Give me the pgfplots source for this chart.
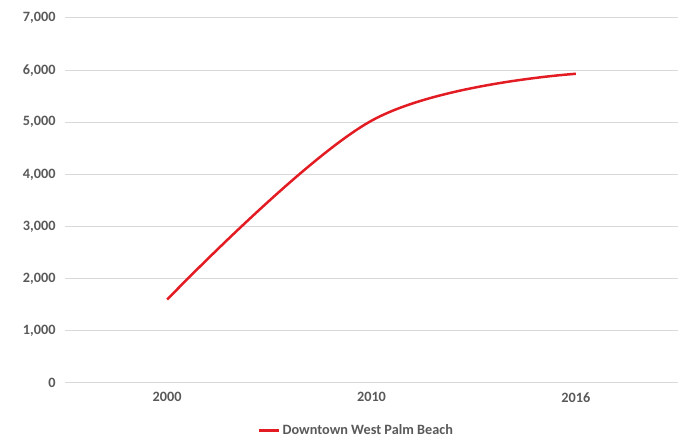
\documentclass[border=0pt]{standalone}
\usepackage{pgfplots}
\pgfplotsset{compat=1.18}
\usepackage{fontspec}
\setmainfont{Carlito}
\definecolor{gridc}{HTML}{D9D9D9}
\definecolor{txt}{HTML}{595959}
\definecolor{linec}{HTML}{E31B23}
\begin{document}
\begin{tikzpicture}
\begin{axis}[
  scale only axis,
  width=613bp, height=365bp,
  xmin=-0.5, xmax=2.5,
  ymin=0, ymax=7000,
  xtick={0,1,2},
  xticklabels={2000,2010,2016},
  ytick={0,1000,...,7000},
  axis line style={draw=none},
  major tick length=0pt,
  ymajorgrids,
  grid style={gridc, line width=1pt},
  tick label style={font=\fontsize{14.3}{16}\selectfont\bfseries, text=txt},
  yticklabel style={xshift=-6bp},
  xticklabel style={yshift=-6bp},
  /pgf/number format/.cd, 1000 sep={,}, assume math mode=true,
  /pgfplots/.cd,
  legend style={at={(0.5,-0.108)}, anchor=north, xshift=-15bp, draw=none, fill=none,
    font=\fontsize{14.3}{16}\selectfont\bfseries, text=txt,
    inner sep=0pt},
  legend cell align=left,
  legend image code/.code={\draw[#1, line width=2.5pt] (0bp,0bp) -- (20bp,0bp);},
]
\addplot[linec, line width=2.5pt, smooth, tension=0.6] coordinates {(0,1600) (1,5030) (2,5930)};
\addlegendentry{Downtown West Palm Beach}
\end{axis}
\path ([xshift=-65bp,yshift=-49bp]current axis.south west) rectangle ([xshift=1bp,yshift=18bp]current axis.north east);
\end{tikzpicture}
\end{document}
